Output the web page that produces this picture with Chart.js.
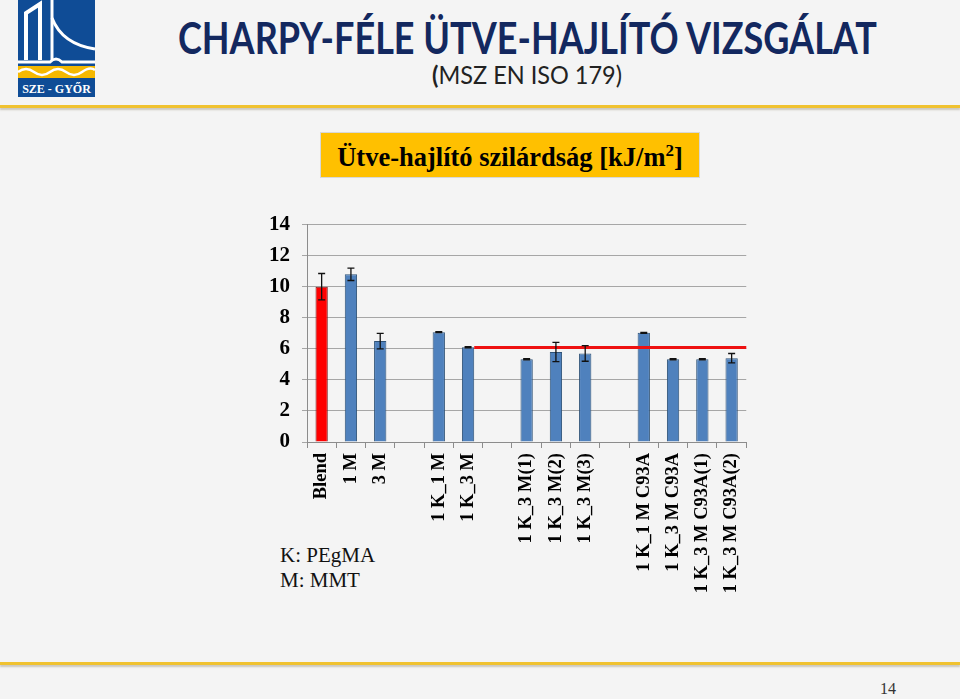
<!DOCTYPE html>
<html>
<head>
<meta charset="utf-8">
<script src="https://cdn.jsdelivr.net/npm/chart.js@4"></script>
<style>
  html, body { margin: 0; padding: 0; }
  body { width: 960px; height: 699px; background: #f4f4f4; position: relative; overflow: hidden; }
  .rule { position: absolute; left: 0; width: 960px; height: 3px; background: #f0c230; box-shadow: 0 2px 2px rgba(120,110,80,0.35); }
  .fit { position: absolute; white-space: nowrap; transform-origin: 0 0; }
  #title { top: 12px; color: #13285f; font: bold 43px Lato, "Open Sans", sans-serif; }
  #subtitle { top: 59px; color: #222; font: 25px Lato, "Open Sans", sans-serif; }
  #subtitle b { font-weight: bold; }
  #box { position: absolute; left: 320px; top: 132px; width: 378px; height: 44px; background: #ffc000;
         border: 1px solid #d8d8d8; }
  #box span { position: absolute; left: 0; right: 0; top: 9px; text-align: center; white-space: nowrap;
              font: bold 26.5px "Liberation Serif", "Times New Roman", serif; line-height: 30px; color: #000; }
  #box sup { font-size: 17px; position: relative; top: -10px; vertical-align: baseline; line-height: 0; }
  #legend { position: absolute; left: 280px; top: 543px; font: 21px "Liberation Serif", serif; line-height: 25px; color: #111; }
  #page { position: absolute; left: 880px; top: 680px; font: 16px "Liberation Serif", serif; color: #333; }
  #chartBox { position: absolute; left: 255px; top: 200px; width: 504px; height: 402px; }
</style>
</head>
<body>
<svg style="position:absolute;left:0;top:0" width="110" height="100">
  <rect x="18" y="0" width="77" height="97" fill="#0f4c96"/>
  <path d="M26,60 L26,13 L40,4 L40,60" fill="none" stroke="#fff" stroke-width="4"/>
  <path d="M52,0 L52,60" fill="none" stroke="#fff" stroke-width="3"/>
  <path d="M52,18 Q62,44 95,49" fill="none" stroke="#fff" stroke-width="3"/>
  <path d="M18,62 L50,62 Q56,56 62,62 L95,62" fill="none" stroke="#fff" stroke-width="3"/>
  <rect x="18" y="66" width="77" height="12" fill="#f5b800"/>
  <path d="M18,72 Q26,66 34,72 T50,72 T66,72 T82,72 T95,70" fill="none" stroke="#fff" stroke-width="2.5"/>
  <text x="56.5" y="93" text-anchor="middle" fill="#fff" font-family="Liberation Serif" font-weight="bold" font-size="12">SZE - GYŐR</text>
</svg>
<div class="rule" style="top:105px"></div>
<div class="rule" style="top:662px"></div>
<div id="title" class="fit" data-left="178" data-width="699">CHARPY-FÉLE ÜTVE-HAJLÍTÓ VIZSGÁLAT</div>
<div id="subtitle" class="fit" data-left="432" data-width="190"><b>(</b>MSZ EN ISO 179)</div>
<div id="box"><span>Ütve-hajlító szilárdság [kJ/m<sup>2</sup>]</span></div>
<div id="legend">K: PEgMA<br>M: MMT</div>
<div id="page">14</div>
<div id="chartBox"><canvas id="charpyChart"></canvas></div>
<script>
const categories = ['Blend', '1 M', '3 M', '', '1 K_1 M', '1 K_3 M', '', '1 K_3 M(1)', '1 K_3 M(2)', '1 K_3 M(3)', '',
    '1 K_1 M C93A', '1 K_3 M C93A', '1 K_3 M C93A(1)', '1 K_3 M C93A(2)'];
const strength = [10.0, 10.8, 6.5, null, 7.07, 6.1, null, 5.33, 5.8, 5.7, null, 7.03, 5.33, 5.33, 5.4];
const strengthErr = [0.85, 0.4, 0.5, null, 0.03, 0.04, null, 0.04, 0.62, 0.5, null, 0.03, 0.04, 0.04, 0.3];
const referenceLevel = 6.08;   // red line, starts at "1 K_3 M"
const referenceFrom = 5;
const yMax = 14;
const yStep = 2;

const barColors = categories.map((c, i) => (i === 0 ? '#ff0000' : '#4f81bd'));
const barBorders = categories.map((c, i) => (i === 0 ? '#7a1c1c' : '#2e5277'));

const serif = '"Liberation Serif", "Times New Roman", serif';

// squeeze the headings to the width they have on the slide
document.querySelectorAll('.fit').forEach((el) => {
    const w = el.getBoundingClientRect().width;
    el.style.left = el.dataset.left + 'px';
    el.style.transform = 'scaleX(' + (el.dataset.width / w) + ')';
});

// error bars + the red reference line
const overlay = {
    id: 'overlay',
    afterDatasetsDraw(chart) {
        const ctx = chart.ctx;
        const y = chart.scales.y;
        const bars = chart.getDatasetMeta(0).data;

        const start = bars[referenceFrom];
        ctx.save();
        ctx.strokeStyle = '#ee1111';
        ctx.lineWidth = 3;
        ctx.beginPath();
        ctx.moveTo(start.x + start.width / 2, y.getPixelForValue(referenceLevel));
        ctx.lineTo(chart.chartArea.right, y.getPixelForValue(referenceLevel));
        ctx.stroke();

        ctx.strokeStyle = '#111';
        ctx.lineWidth = 1.3;
        bars.forEach((bar, i) => {
            if (strength[i] == null) return;
            const top = y.getPixelForValue(strength[i] + strengthErr[i]);
            const bot = y.getPixelForValue(strength[i] - strengthErr[i]);
            ctx.beginPath();
            ctx.moveTo(bar.x, top); ctx.lineTo(bar.x, bot);
            ctx.moveTo(bar.x - 3.5, top); ctx.lineTo(bar.x + 3.5, top);
            ctx.moveTo(bar.x - 3.5, bot); ctx.lineTo(bar.x + 3.5, bot);
            ctx.stroke();
        });
        ctx.restore();
    },
};

new Chart(document.getElementById('charpyChart'), {
    type: 'bar',
    data: {
        labels: categories,
        datasets: [{
            data: strength,
            backgroundColor: barColors,
            borderColor: barBorders,
            borderWidth: 1,
            barPercentage: 0.42,
            categoryPercentage: 1,
        }],
    },
    options: {
        responsive: true,
        maintainAspectRatio: false,
        animation: false,
        layout: { padding: { top: 23, right: 5, left: 0, bottom: 0 } },
        plugins: { legend: { display: false }, tooltip: { enabled: false } },
        scales: {
            y: {
                min: 0,
                max: yMax,
                afterFit: (s) => { s.width = 52; },
                ticks: { stepSize: yStep, color: '#000', padding: 12, font: { size: 21, weight: 'bold', family: serif } },
                grid: { color: '#a6a6a6', tickLength: 5, tickColor: '#a6a6a6' },
                border: { color: '#8c8c8c' },
            },
            x: {
                afterFit: (s) => { s.height = 160; },
                ticks: { minRotation: 90, maxRotation: 90, autoSkip: false, color: '#000', padding: 5,
                         font: { size: 18.5, weight: 'bold', family: serif } },
                grid: { drawOnChartArea: false, tickLength: 6, color: '#8c8c8c' },
                border: { color: '#8c8c8c' },
            },
        },
    },
    plugins: [overlay],
});
</script>
</body>
</html>
